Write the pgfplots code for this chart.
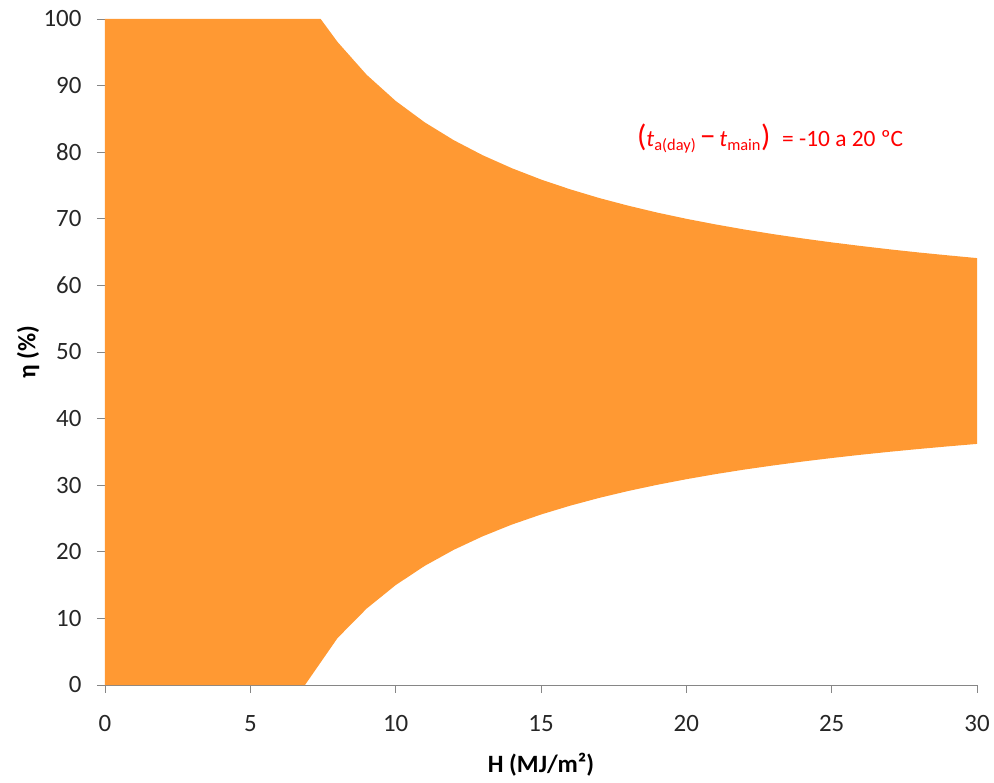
\documentclass[border=0pt]{standalone}
\usepackage{pgfplots}
\pgfplotsset{compat=1.18}
\usetikzlibrary{calc}
\usepackage{fontspec}
\setmainfont{Carlito}
\definecolor{areaorange}{RGB}{255,153,51}
\definecolor{axisgray}{RGB}{134,134,134}
\begin{document}
\begin{tikzpicture}
\begin{axis}[
  name=ax,
  scale only axis,
  width=872bp, height=666bp,
  xmin=0, xmax=30, ymin=0, ymax=100,
  xtick={0,5,...,30}, ytick={0,10,...,100},
  axis x line=bottom, axis y line=left,
  axis line style={axisgray, line width=0.8pt, -},
  tick style={axisgray, line width=0.8pt},
  tick align=outside,
  major tick length=8bp,
  /pgf/number format/assume math mode=true,
  tick label style={font=\fontsize{25}{28}\selectfont, text=black!85},
  xticklabel style={yshift=-19bp},
  yticklabel style={xshift=-12bp},
  xlabel={H (MJ/m²)},
  ylabel={η (\%)},
  label style={font=\fontsize{25}{28}\selectfont\bfseries},
  xlabel style={at={(axis description cs:0.5,0)}, anchor=center, yshift=-80bp},
  ylabel style={at={(axis description cs:0,0.5)}, anchor=center, rotate=0, yshift=77bp},
  clip=true,
]
% band of efficiency values between the upper and lower limit curves
\addplot[fill=areaorange, draw=none] coordinates {
  (0,100) (7.42,100) (8,96.55) (9,91.63) (10,87.70) (11,84.48) (12,81.80)
  (13,79.53) (14,77.59) (15,75.90) (16,74.43) (17,73.12) (18,71.97)
  (19,70.93) (20,70.00) (21,69.16) (22,68.39) (23,67.69) (24,67.05)
  (25,66.46) (26,65.92) (27,65.41) (28,64.94) (29,64.51) (30,64.10)
  (30,36.20) (29,35.83) (28,35.44) (27,35.02) (26,34.57) (25,34.08)
  (24,33.55) (23,32.97) (22,32.35) (21,31.66) (20,30.90) (19,30.06)
  (18,29.13) (17,28.09) (16,26.92) (15,25.60) (14,24.09) (13,22.34)
  (12,20.30) (11,17.89) (10,15.00) (9,11.47) (8,7.05) (6.88,0) (0,0)
} -- cycle;
\node[anchor=west, text=red, font=\fontsize{23.5}{26}\selectfont, inner sep=0pt]
  at (axis cs:18.3,82.1)
  {{\fontsize{31}{33}\selectfont(}\textit{t}\textsubscript{a(day)}\,{\fontsize{31}{33}\selectfont −}\,\textit{t}\textsubscript{main}{\fontsize{31}{33}\selectfont)}\enspace= -10 a 20 ºC};
\end{axis}
\pgfresetboundingbox
\path ($(ax.south west)+(-105bp,-98bp)$) rectangle ($(ax.north east)+(17bp,19bp)$);
\end{tikzpicture}
\end{document}
